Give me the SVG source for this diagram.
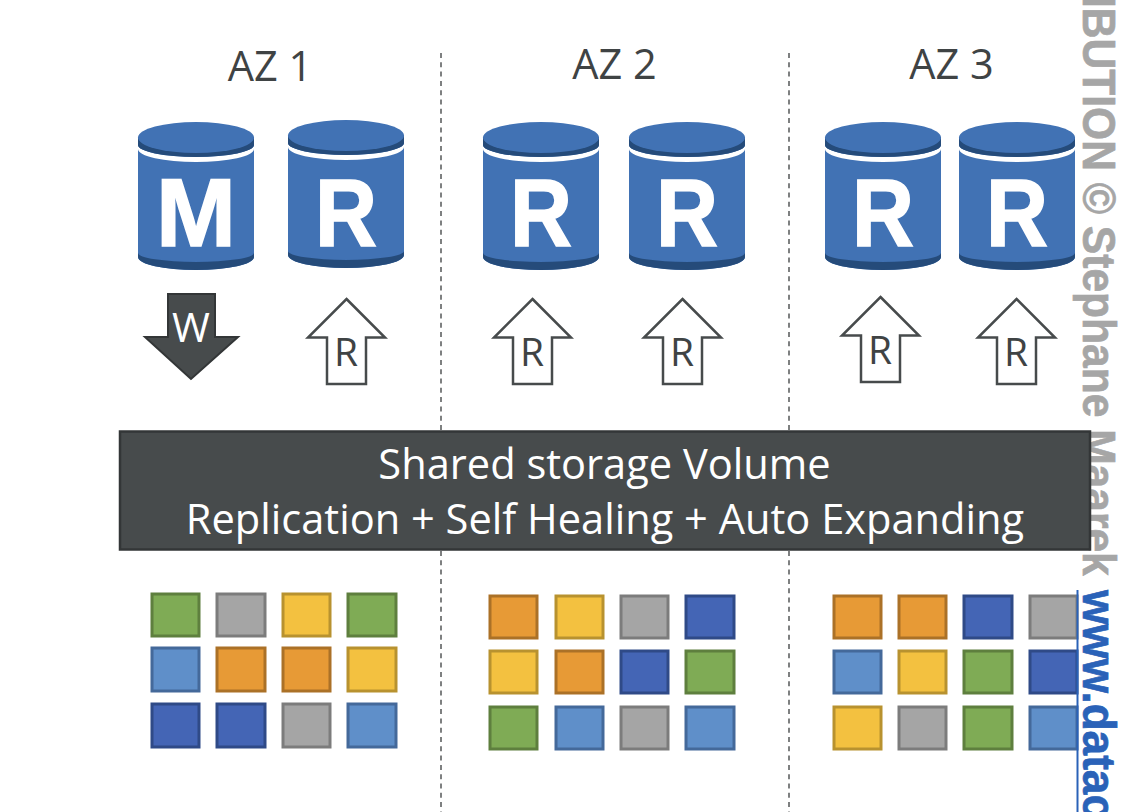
<svg xmlns="http://www.w3.org/2000/svg" width="1130" height="812" viewBox="0 0 1130 812">
<style>
.t{font-family:"Open Sans","Noto Sans",sans-serif;fill:#3f4344}
.az{font-size:41.500px;text-anchor:middle}
.cl{font-family:"Liberation Sans",Arial,sans-serif;font-weight:bold;font-size:96px;fill:#fff;stroke:#fff;stroke-width:1.500;text-anchor:middle}
.ar{font-size:39px;text-anchor:middle}
.ban{font-family:"Open Sans","Noto Sans",sans-serif;font-size:41.600px;fill:#fff;text-anchor:middle}
.wm{font-family:"Liberation Sans",Arial,sans-serif;font-weight:bold;font-size:46px;stroke-width:.7}
.g{fill:#7fab55;stroke:#5e7f3e}.y{fill:#a5a5a5;stroke:#7c7c7c}.a{fill:#f3c140;stroke:#b8922f}
.l{fill:#5f8fc9;stroke:#44699a}.o{fill:#e79a36;stroke:#ab7127}.d{fill:#4465b5;stroke:#2f4a87}
.s rect{stroke-width:3}
.div{stroke:#3a3d3e;stroke-width:1.300;stroke-dasharray:5 4.300;fill:none}
.arrow{fill:#fff;stroke:#474b4c;stroke-width:2.500}
</style>
<defs>
<g id="cyl">
<path d="M0 15V135A58 13 0 0 0 116 135V15Z" fill="#4172b4"/>
<path d="M0 131V135A58 13 0 0 0 116 135V131A58 9 0 0 1 0 131Z" fill="#254b7a"/>
<path d="M0 23A58 12 0 0 0 116 23V27A58 13 0 0 1 0 27Z" fill="#fff"/>
<path d="M0 15V23A58 12 0 0 0 116 23V15Z" fill="#254b7a"/>
<ellipse cx="58" cy="15.500" rx="58" ry="15.500" fill="#4172b4"/>
</g>
<path id="up" d="M39.500 0L78 38.500H59V85H20V38.500H1Z"/>
</defs>

<g id="watermark">
<text class="wm" transform="translate(1083 -4) rotate(90) scale(.925 1)" fill="#a6a6a6" stroke="#a6a6a6">IBUTION © Stephane Maarek</text>
<text class="wm" transform="translate(1083 590) rotate(90) scale(.96 1)" fill="#2a62b8" stroke="#2a62b8">www.datac</text>
</g>

<g id="connectors">
<path class="div" d="M441 53V430M441 551V812"/>
<path class="div" d="M789 53V430M789 551V812"/>
</g>

<g id="labels">
<text class="t az" x="270" y="81">AZ 1</text>
<text class="t az" x="614.500" y="79">AZ 2</text>
<text class="t az" x="951.500" y="79">AZ 3</text>
</g>

<g id="db-m"><use href="#cyl" x="138" y="122"/><text class="cl" x="196" y="246">M</text></g>
<g id="db-r1"><use href="#cyl" x="288" y="120"/><text class="cl" x="346" y="246" textLength="62" lengthAdjust="spacingAndGlyphs">R</text></g>
<g id="db-r2"><use href="#cyl" x="483" y="122"/><text class="cl" x="541" y="246" textLength="62" lengthAdjust="spacingAndGlyphs">R</text></g>
<g id="db-r3"><use href="#cyl" x="629" y="122"/><text class="cl" x="687" y="246" textLength="62" lengthAdjust="spacingAndGlyphs">R</text></g>
<g id="db-r4"><use href="#cyl" x="825" y="122"/><text class="cl" x="883" y="246" textLength="62" lengthAdjust="spacingAndGlyphs">R</text></g>
<g id="db-r5"><use href="#cyl" x="959" y="122"/><text class="cl" x="1017" y="246" textLength="62" lengthAdjust="spacingAndGlyphs">R</text></g>

<g id="arrow-w">
<path d="M168 294H215V337H238L191 379L145 337H168Z" fill="#474b4c" stroke="#333637" stroke-width="2"/>
<text class="ar" x="191" y="342" style="font-family:'Open Sans',sans-serif;fill:#fff;font-size:41px">W</text>
</g>
<g id="arrow-r1"><use href="#up" class="arrow" x="307" y="299"/><text class="t ar" x="346" y="366">R</text></g>
<g id="arrow-r2"><use href="#up" class="arrow" x="493" y="299"/><text class="t ar" x="532" y="366">R</text></g>
<g id="arrow-r3"><use href="#up" class="arrow" x="643" y="299"/><text class="t ar" x="682" y="366">R</text></g>
<g id="arrow-r4"><use href="#up" class="arrow" x="841" y="297"/><text class="t ar" x="880" y="364">R</text></g>
<g id="arrow-r5"><use href="#up" class="arrow" x="977" y="299"/><text class="t ar" x="1016" y="366">R</text></g>

<g id="storage">
<rect x="120" y="431.500" width="970" height="118" fill="#474b4c" stroke="#333637" stroke-width="2.500"/>
<text class="ban" x="604.500" y="479">Shared storage Volume</text>
<text class="ban" x="605" y="534">Replication + Self Healing + Auto Expanding</text>
</g>

<g id="blocks-az1" class="s">
<rect class="g" x="152" y="594" width="47" height="42"/><rect class="y" x="217" y="594" width="48" height="42"/><rect class="a" x="283" y="594" width="47" height="42"/><rect class="g" x="348" y="594" width="48" height="42"/>
<rect class="l" x="152" y="648" width="47" height="43"/><rect class="o" x="217" y="648" width="48" height="43"/><rect class="o" x="283" y="648" width="47" height="43"/><rect class="a" x="348" y="648" width="48" height="43"/>
<rect class="d" x="152" y="704" width="47" height="43"/><rect class="d" x="217" y="704" width="48" height="43"/><rect class="y" x="283" y="704" width="47" height="43"/><rect class="l" x="348" y="704" width="48" height="43"/>
</g>
<g id="blocks-az2" class="s">
<rect class="o" x="490" y="596" width="47" height="42"/><rect class="a" x="556" y="596" width="47" height="42"/><rect class="y" x="621" y="596" width="47" height="42"/><rect class="d" x="686" y="596" width="48" height="42"/>
<rect class="a" x="490" y="651" width="47" height="42"/><rect class="o" x="556" y="651" width="47" height="42"/><rect class="d" x="621" y="651" width="47" height="42"/><rect class="g" x="686" y="651" width="48" height="42"/>
<rect class="g" x="490" y="707" width="47" height="42"/><rect class="l" x="556" y="707" width="47" height="42"/><rect class="y" x="621" y="707" width="47" height="42"/><rect class="l" x="686" y="707" width="48" height="42"/>
</g>
<g id="blocks-az3" class="s">
<rect class="o" x="834" y="596" width="47" height="42"/><rect class="o" x="899" y="596" width="47" height="42"/><rect class="d" x="964" y="596" width="48" height="42"/><rect class="y" x="1030" y="596" width="47" height="42"/>
<rect class="l" x="834" y="651" width="47" height="42"/><rect class="a" x="899" y="651" width="47" height="42"/><rect class="g" x="964" y="651" width="48" height="42"/><rect class="d" x="1030" y="651" width="47" height="42"/>
<rect class="a" x="834" y="707" width="47" height="42"/><rect class="y" x="899" y="707" width="47" height="42"/><rect class="g" x="964" y="707" width="48" height="42"/><rect class="l" x="1030" y="707" width="47" height="42"/>
</g>
<path id="link-rule" d="M1077.500 590V812" stroke="#2a62b8" stroke-width="2" fill="none"/>
</svg>
